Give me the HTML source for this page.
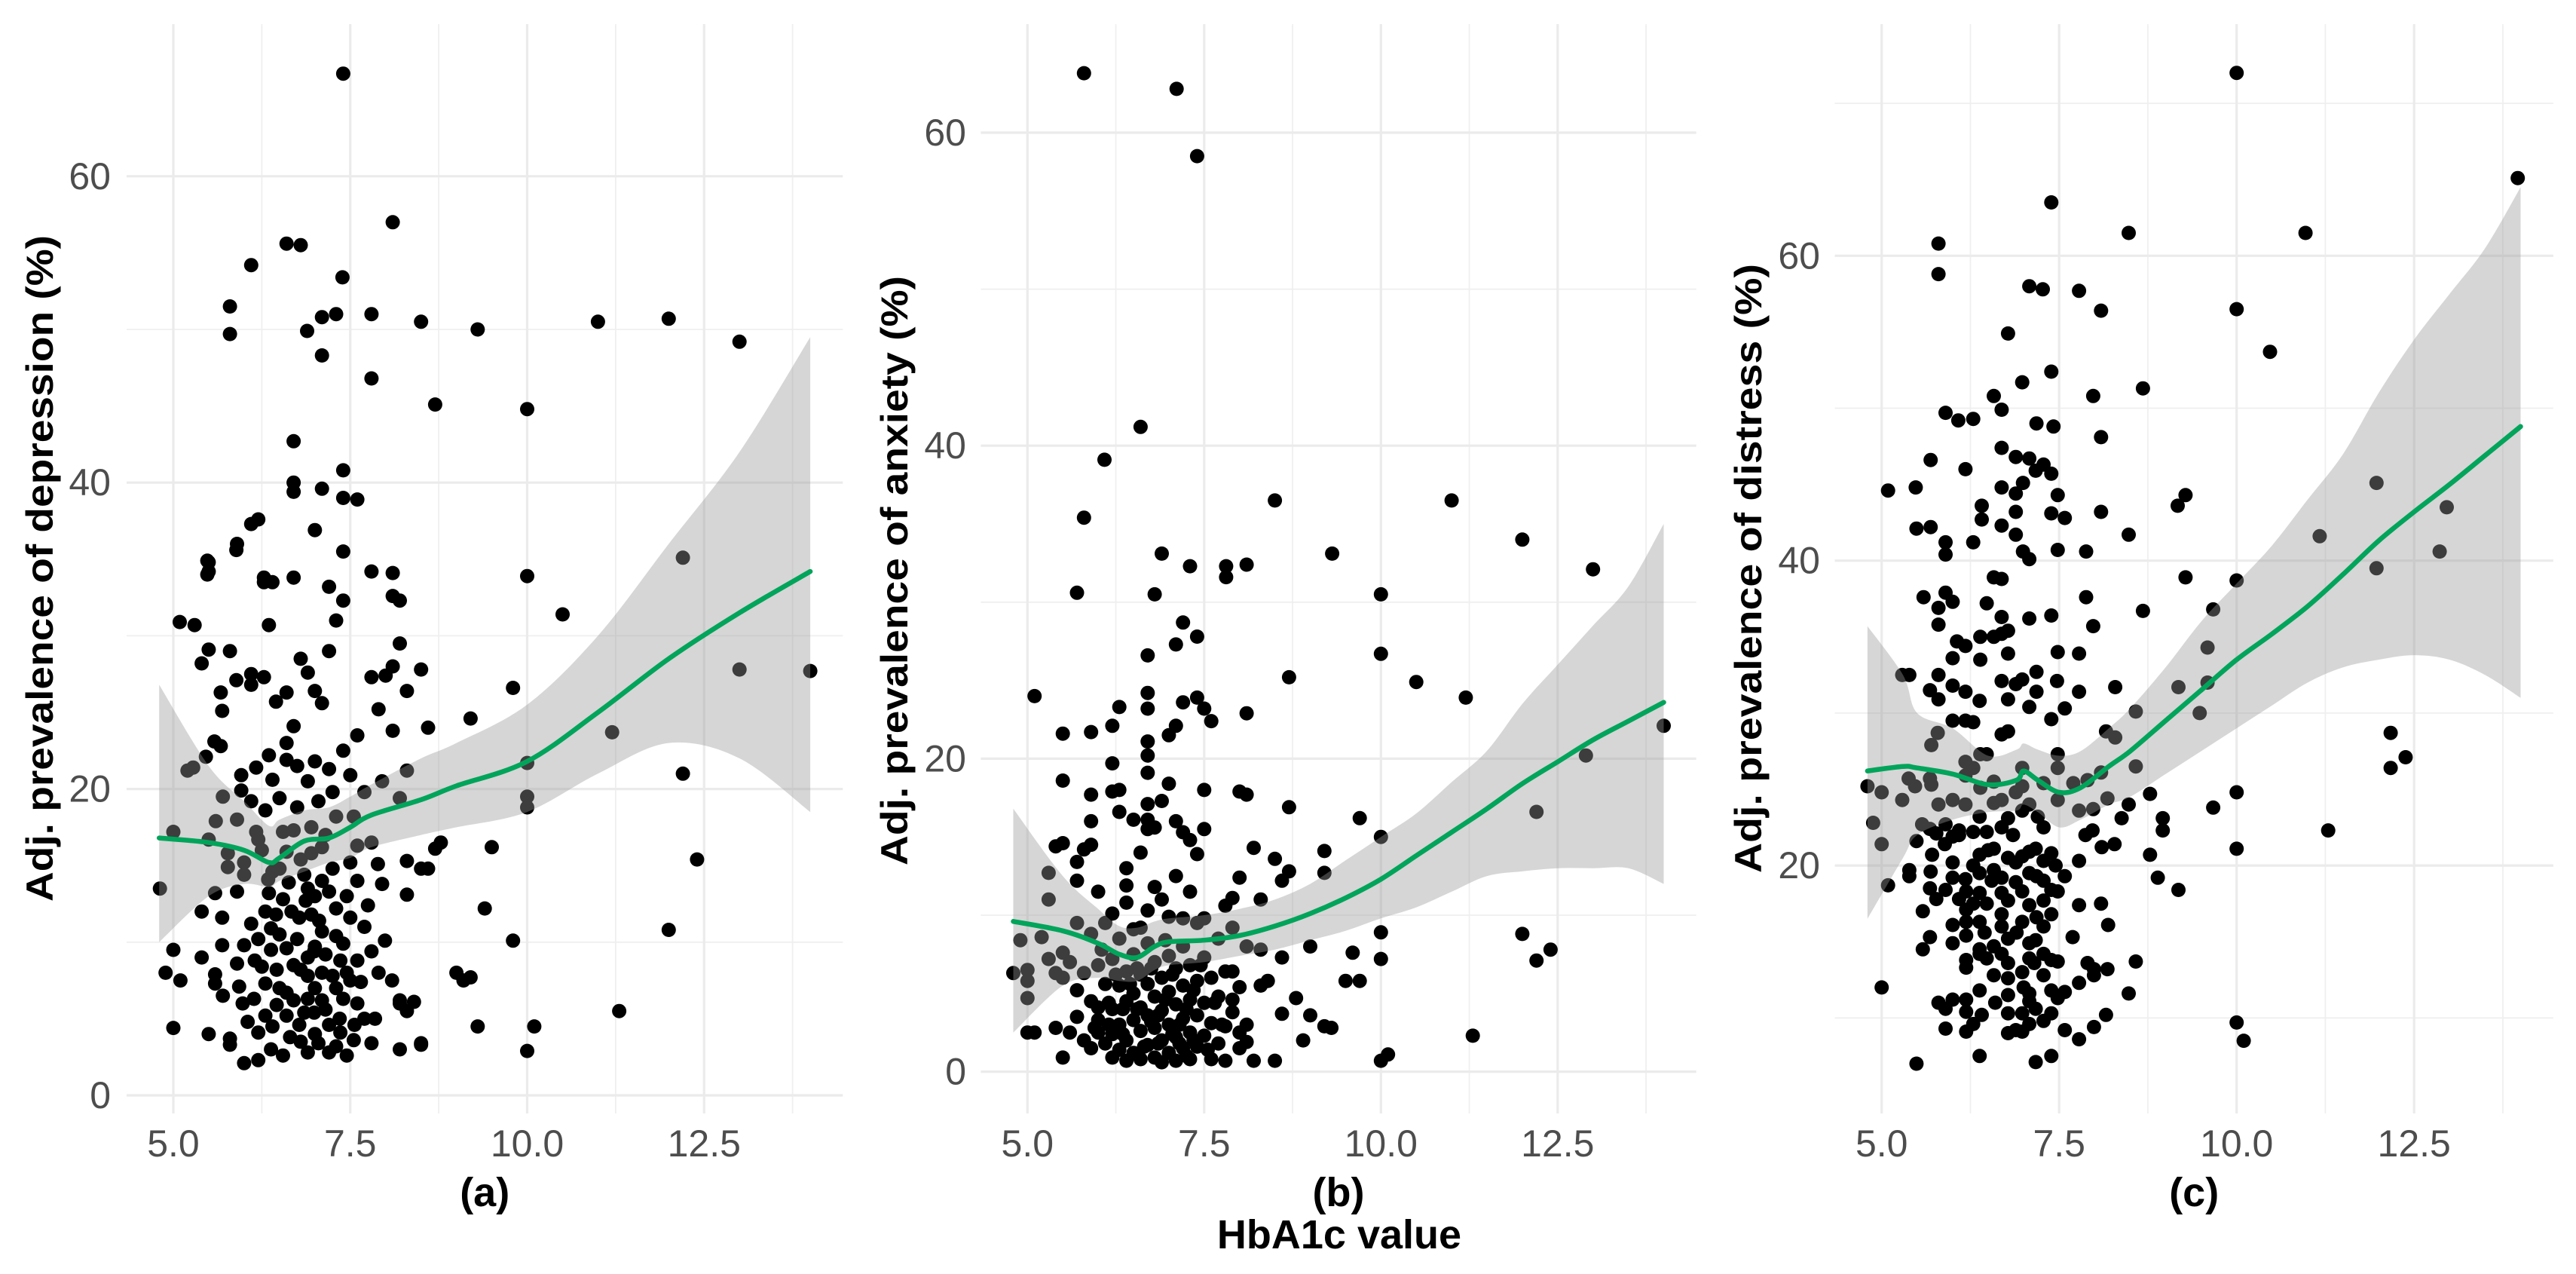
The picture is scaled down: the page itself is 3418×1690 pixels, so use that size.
<!DOCTYPE html>
<html><head><meta charset="utf-8"><title>HbA1c vs adjusted prevalence</title>
<style>
html,body{margin:0;padding:0;background:#fff;}
svg{display:block;}
text{font-family:"Liberation Sans",Arial,sans-serif;}
</style></head>
<body>
<svg id="chart" xmlns="http://www.w3.org/2000/svg" width="3418" height="1690" viewBox="0 0 3418 1690">
<rect width="3418" height="1690" fill="#fff"/>
<text x="1777" y="1638" text-anchor="middle" dominant-baseline="central" font-size="54" font-weight="bold" fill="#000">HbA1c value</text>
</svg>
<script>
// ---------- DATA ----------
const xMajorTicks = [5.0, 7.5, 10.0, 12.5];
const xTickLabels = ["5.0", "7.5", "10.0", "12.5"];
const xMinorTicks = [6.25, 8.75, 11.25, 13.75];

const yTicksA = [0, 20, 40, 60];
const yMinorA = [10, 30, 50];
const yTicksB = [0, 20, 40, 60];
const yMinorB = [10, 30, 50];
const yTicksC = [20, 40, 60];
const yMinorC = [10, 30, 50, 70];

const titles = ["Adj. prevalence of depression (%)", "Adj. prevalence of anxiety (%)", "Adj. prevalence of distress (%)"];
const captions = ["(a)", "(b)", "(c)"];

// smoother: [x, fit, lower, upper]
const smoothA = [[4.8,16.8,10,26.8],[5.5,16.5,13,21.5],[6.0,16.0,13.8,19.2],[6.35,15.2,13.6,17.6],[6.5,15.5,14,18],[6.85,16.6,14.6,18.6],[7.2,16.8,15.2,18.8],[7.5,17.5,15.5,19.5],[7.8,18.3,16.2,20.3],[8.5,19.3,17,22],[9.0,20.2,17.5,23],[10,21.8,18.5,25.5],[11,25,21,30],[12,28.5,23,36],[13,31.5,22,42],[14,34.2,18.5,49.5]];
const smoothB = [[4.8,9.6,2.5,16.8],[5.5,9.0,5.5,12.5],[6.0,8.2,6.0,10.4],[6.3,7.5,5.8,9.3],[6.55,7.3,5.8,9.2],[6.8,8.0,6.5,9.6],[7.0,8.3,6.8,9.8],[7.5,8.4,7.0,10.0],[8.0,8.7,7.4,10.4],[8.5,9.3,7.8,11.0],[9.0,10.1,8.4,12.0],[9.5,11.1,9,13.5],[10,12.3,9.8,15],[10.5,13.8,10.5,16.5],[11,15.3,11.5,18.5],[11.5,16.8,12.5,20.5],[12,18.4,12.8,23.5],[12.5,19.8,13,26],[13,21.2,13,28.5],[13.5,22.4,13,31],[14,23.6,12,35]];
const smoothC = [[4.8,26.2,16.5,35.7],[5.3,26.5,20.5,32.5],[5.5,26.4,22,30],[6.0,26,23,29],[6.5,25.3,23.5,27.2],[6.9,25.6,23.6,27.6],[7.0,26.2,24,28],[7.2,25.6,23.5,27.6],[7.5,24.8,22.5,27.2],[7.8,25.1,23,27.5],[8.2,26.5,24,29],[8.5,27.5,24.5,30.3],[9.0,29.5,26,33],[9.5,31.5,27.5,36],[10,33.5,29,38.5],[10.5,35.2,30.5,41],[11,37,32,44],[11.5,39.1,33,47],[12,41.3,33.5,51],[12.5,43.2,33.8,54.5],[13,45,33.5,57.5],[13.5,46.9,32.5,60.5],[14,48.8,31,64.5]];

const depressionPoints = [
[8.1,57.0],[7.4,66.7],[6.6,55.6],[6.8,55.5],[6.1,54.2],[7.39,53.4],[5.8,51.5],[5.8,49.7],[6.89,49.9],[7.1,50.8],[7.3,51],[7.8,51],[8.5,50.5],[7.1,48.3],[7.8,46.8],[8.7,45.1],[6.7,42.7],[7.4,40.8],[6.7,40.0],[6.7,39.4],[7.1,39.6],[7.4,39],[7.6,38.9],[6.2,37.6],[7.0,36.9],[5.9,36],[7.4,35.5],[5.5,34.8],[5.5,34.2],[6.28,33.5],[6.4,33.5],[6.7,33.8],[7.8,34.2],[8.1,34.1],[7.2,33.2],[7.4,32.3],[8.1,32.6],[8.2,32.3],
[9.3,50],[11.0,50.5],[12.0,50.7],[13.0,49.2],[10.0,44.8],[10.0,33.9],[10.5,31.4],[12.2,35.1],[13.0,27.8],[14.0,27.7],[11.2,23.7],[10.0,21.7],[10.0,19.5],[10.0,18.8],[9.5,16.2],[9.8,26.6],[9.2,24.6],[12.2,21.0],[12.4,15.4],[12.0,10.8],[11.3,5.5],[10.0,2.9],[10.1,4.5],[9.8,10.1],[9.4,12.2],[9.3,4.5],[9.1,7.5],[9.0,8.0],[9.2,7.7],[8.7,16.1],[8.6,24.0],[8.5,27.8],[8.3,26.4],[8.2,19.4],[8.5,3.3],[8.3,5.5],[8.2,6.2],
[4.81,13.5],[5.0,9.5],[4.89,8.0],[5.1,7.5],[5.0,4.4],[5.4,12.0],[5.59,13.2],[5.69,11.6],[5.4,9.0],[5.5,4.0],[5.69,9.8],[5.59,7.9],[5.59,7.3],[5.7,6.5],[5.9,8.6],[6.0,9.8],[5.9,13.3],[6.1,11.2],[5.8,3.7],[5.8,3.3],[6.0,2.1],[6.2,4.1],[6.2,2.3],[6.3,12],[6.38,10.9],[6.38,9.5],[6.46,8.2],[6.6,6.7],[6.6,5.2],[6.78,4.6],[6.9,6.3],[7.0,9.7],[7.2,13.3],[7.3,12.2],[7.4,9.9],[7.6,8.8],[7.5,7.5],[7.4,6.3],[7.56,4.6],[7.85,5.0],[7.8,9.4],[7.99,10.1],[8.09,7.5],[8.2,6.0],[8.3,13.1],[8.4,6.1],[8.5,3.4],[8.2,3.0],[7.8,3.4],[7.2,2.8],[6.9,2.8],[6.38,3.0],[6.67,12],[6.87,12.7],[6.78,11.6],[7.06,11.4],[7.1,10.7],[6.99,9.4],[7.36,8.8],[6.46,5.9],[6.99,5.4],[7.15,5.6],[7.36,4.1],[6.3,7.3],[6.14,6.3],[5.93,7.1],[5.98,6.0],[7.5,15.2],[7.89,15.1],[8.3,15.3],[8.5,14.8],[8.6,14.8],[8.78,16.5],[7.6,16.3],[7.8,16.5],[7.1,16.2],[6.95,15.8],[6.8,15.4],[6.5,14.8],[6.34,14.1],[6.0,15.2],[6.0,14.4],[5.77,15.8],[5.77,14.9],[5.5,16.7],[5.0,17.2],[6.2,16.7],[6.17,17.2],[6.7,17.3],[6.63,13.9],
[5.09,30.9],[5.3,30.7],[5.48,34.9],[5.48,34.0],[5.5,29.1],[5.4,28.2],[5.28,21.4],[5.46,22.1],[5.58,23.1],[5.67,22.8],[5.69,25.1],[5.67,26.3],[5.8,29.0],[5.89,35.6],[5.89,27.1],[6.1,37.3],[6.1,27.5],[6.1,26.8],[6.28,33.8],[6.28,27.3],[6.35,30.7],[6.45,25.7],[6.6,26.3],[6.6,21.9],[6.35,22.2],[6.17,21.4],[5.96,20.9],[5.96,19.9],[6.1,19.2],
[6.8,28.5],[6.9,27.6],[7.0,26.4],[7.1,25.6],[7.2,29],[7.3,31],[6.7,24.1],[6.6,23],[6.75,21.5],[6.9,20.5],[7.05,19.2],[7.2,21.3],[7.4,22.5],[7.5,20.9],[7.6,23.5],[7.8,27.3],[7.9,25.2],[8.0,27.4],[7.7,19.8],[6.5,19.4],[6.4,20.6],[6.3,18.6],[7.3,18.2],[7.95,20.5],[8.1,23.8],[8.3,21.2],[8.1,28.0],[8.2,29.5],[7.15,17.0],[6.95,17.5],[5.9,18],[5.7,19.5],[5.6,17.9],[5.2,21.2],
[6.5,10.5],[6.7,8.5],[6.9,7.8],[7.1,8.0],[7.3,7.0],[6.8,3.5],[7.0,4.0],[7.3,3.2],[7.6,6.0],[7.7,11.0],[6.4,4.5],[6.55,2.6],[7.45,2.6],[7.1,14.0],[6.9,13.5],
[6.2,10.2],[6.25,8.4],[6.3,5.2],[6.35,13.2],[6.45,11.8],[6.5,7.0],[6.55,12.8],[6.6,9.6],[6.65,3.8],[6.7,6.2],[6.75,10.2],[6.8,8.2],[6.85,5.4],[6.9,9.0],[6.95,11.8],[7.0,7.0],[7.05,3.4],[7.1,6.2],[7.15,9.2],[7.2,4.6],[7.25,7.8],[7.3,10.4],[7.35,5.0],[7.45,8.0],[7.5,11.6],[7.55,3.6],[7.65,7.4],[7.7,5.0],[7.75,12.4],[7.9,8.0],[6.15,8.8],[6.05,4.8],[6.4,14.6],[6.6,15.9],[6.85,14.4],[7.0,13.0],[7.25,14.8],[7.45,13.0],[7.6,14.0],[7.95,13.8],[6.25,16.0],[6.75,18.8],[7.0,21.8],[7.25,19.8],[7.55,18.2],[6.55,17.2]
];

const anxietyPoints = [
[5.8,63.8],[7.11,62.8],[7.4,58.5],[6.6,41.2],[6.09,39.1],[5.8,35.4],[5.7,30.6],[6.9,33.1],[7.3,32.3],[7.81,32.3],[7.81,31.6],[8.1,32.4],[8.5,36.5],[9.31,33.1],[10.0,30.5],[10.0,26.7],[10.5,24.9],[11.0,36.5],[12.0,34.0],[13.0,32.1],[14.0,22.1],[12.9,20.2],[12.2,16.6],[12.0,8.8],[12.2,7.1],[12.4,7.8],[11.3,2.3],[10.0,0.7],[10.1,1.1],[10.0,8.9],[10.0,7.2],[10.0,15.0],[11.2,23.9],[9.7,16.2],[9.6,7.6],[9.5,5.8],[9.7,5.8],[9.2,14.1],[9.2,12.7],[9.0,8.0],[9.2,2.9],[9.3,2.8],[8.9,2.0],[9.0,3.6],[8.8,4.7],[8.6,3.7],[8.6,7.3],[8.7,25.2],[8.7,16.9],[8.7,12.8],[8.5,13.6],[8.6,12.2],[8.5,0.7],[8.2,14.3],[8.3,11.0],[8.4,5.8],[8.3,5.5],[8.3,7.8],[8.1,17.7],[8.0,17.9],[8.1,22.9],[8.0,12.4],[7.9,11.1],[7.8,10.6],[7.9,6.4],[7.9,4.6],[8.0,2.5],[8.2,0.7],[8.1,1.9],[7.8,0.7],[7.6,0.8],[7.5,18.0],[7.5,15.5],[7.6,22.4],[7.5,23.2],[7.4,23.9],[7.4,27.8],[7.2,28.7],[7.2,23.6],[7.1,22.1],[7.1,27.3],[7.0,21.5],[7.0,18.4],[7.1,16.0],[7.2,15.3],[7.3,14.8],[7.4,13.9],[6.9,17.3],[6.7,16.1],[6.7,15.5],[6.8,15.6],[6.7,17.1],[6.7,19.1],[6.7,20.2],[6.7,21.1],[6.7,23.2],[6.7,24.2],[6.7,26.6],[6.8,30.5],[6.5,16.1],[6.6,14.0],[6.4,13.0],[6.4,11.9],[6.4,10.8],[6.2,10.1],[6.3,16.6],[6.3,23.3],[6.2,22.1],[6.2,19.7],[6.2,17.9],[6.3,18.0],[5.9,17.7],[5.9,16.0],[5.9,21.7],[5.9,14.5],[5.8,14.2],[5.7,13.4],[5.7,12.2],[5.5,21.6],[5.5,18.6],[5.5,14.6],[5.4,14.4],[5.3,12.7],[5.3,11.0],[4.9,8.4],[4.8,6.3],[5.0,6.5],[5.0,4.7],[5.0,2.5],[5.1,2.5],[5.1,24.0],[5.4,6.3],[5.4,2.8],[5.5,0.9],[5.6,2.5],[6.0,11.5],[6.0,2.5],[6.0,4.1],
[5.6,7.0],[5.7,5.2],[5.7,3.5],[5.8,6.3],[5.8,2.0],[5.9,4.5],[5.9,1.5],[6.0,6.8],[6.0,3.3],[6.1,5.6],[6.1,1.8],[6.2,7.2],[6.2,4.0],[6.2,2.4],[6.2,0.9],[6.3,5.5],[6.3,3.0],[6.3,1.4],[6.4,6.4],[6.4,4.5],[6.4,2.0],[6.4,0.7],[6.5,7.5],[6.5,5.0],[6.5,3.3],[6.5,1.2],[6.6,6.2],[6.6,4.1],[6.6,2.6],[6.6,0.8],[6.7,8.2],[6.7,5.6],[6.7,3.6],[6.7,1.7],[6.8,7.0],[6.8,4.8],[6.8,2.8],[6.8,0.9],[6.9,6.0],[6.9,3.9],[6.9,2.0],[6.9,0.6],[7.0,9.9],[7.0,7.4],[7.0,5.1],[7.0,3.0],[7.0,1.2],[7.1,6.6],[7.1,4.3],[7.1,2.2],[7.1,0.7],[7.2,8.0],[7.2,5.5],[7.2,3.4],[7.2,1.5],[7.3,6.8],[7.3,4.6],[7.3,2.5],[7.3,0.8],[7.4,9.5],[7.4,5.8],[7.4,3.6],[7.4,1.6],[7.5,7.3],[7.5,4.4],[7.5,2.3],[7.6,6.0],[7.6,3.1],[7.7,8.5],[7.7,4.8],[7.7,1.8],[7.8,6.4],[7.8,2.9],[7.9,9.2],[7.9,3.8],[8.0,5.4],[8.0,1.5],[8.1,8.0],[8.1,3.0],[7.5,9.8],[7.3,11.5],[7.1,12.5],[6.9,11.0],[6.7,10.3],[6.5,9.1],[6.3,8.5],[6.1,9.5],[5.9,8.8],[5.7,9.5],[5.5,7.6],[5.5,6.0],[5.3,7.2],[5.2,8.6],[5.0,5.8],
[6.55,6.6],[6.75,3.2],[6.95,4.6],[7.15,3.0],[7.35,5.2],[6.35,4.0],[6.15,3.0],[6.85,1.8],[7.05,2.4],[7.25,1.0],
[6.25,6.2],[6.35,2.4],[6.45,5.6],[6.55,4.0],[6.65,1.6],[6.75,6.6],[6.85,3.6],[6.95,8.4],[7.05,6.2],[7.15,1.8],[7.25,4.0],[7.35,2.0],[7.45,6.8],[7.55,1.4],[7.65,4.4],[7.75,3.0],[6.05,7.8],[5.95,2.8],[6.15,4.4],[7.2,9.8],[6.6,9.2],[6.8,11.8]
];

const distressPoints = [
[10.0,72.0],[13.96,65.1],[7.39,63.5],[8.48,61.5],[10.97,61.5],[5.8,60.8],[5.8,58.8],[7.08,58.0],[7.27,57.8],[7.78,57.7],[8.09,56.4],[10.0,56.5],[6.78,54.9],[10.47,53.7],[7.39,52.4],[8.68,51.3],[6.98,51.7],[7.98,50.8],[6.58,50.8],[6.69,49.9],[5.9,49.7],[6.08,49.2],[6.29,49.3],[7.18,49.0],[7.42,48.8],[8.09,48.1],[6.69,47.4],[6.89,46.8],[7.08,46.7],[5.69,46.6],[7.28,46.3],[6.18,46.0],[7.17,45.9],[7.39,45.7],[6.99,45.1],[5.48,44.8],[5.09,44.6],[6.69,44.8],[6.89,44.4],[7.48,44.3],[11.97,45.1],[9.28,44.3],[9.17,43.6],[12.96,43.5],[6.41,43.6],[6.89,43.2],[7.39,43.1],[7.58,42.8],[8.09,43.2],[5.49,42.1],[5.69,42.2],[6.41,42.7],[6.29,41.2],[6.69,42.3],[6.89,41.7],[11.17,41.6],[8.48,41.7],[5.9,41.2],[5.9,40.4],[6.99,40.6],[7.08,40.1],[7.48,40.7],[7.88,40.6],[12.86,40.6],[11.97,39.5],[9.28,38.9],[10.0,38.7],[6.58,38.9],[6.69,38.8],[5.59,37.6],[5.9,37.9],[6.0,37.3],[5.8,36.9],[6.48,37.2],[7.88,37.6],[8.68,36.7],[9.67,36.8],[7.39,36.4],[7.08,36.2],[6.69,36.3],[5.8,35.8],[7.98,35.7],[6.78,35.4],[6.69,35.2],[6.39,35.0],[6.58,35.0],[6.06,34.7],[6.18,34.4],[7.48,34.0],[7.78,33.9],[6.78,33.9],[6.0,33.6],[9.59,34.3],[6.39,33.5],[5.29,32.5],[5.39,32.5],[5.8,32.5],[7.18,32.7],[6.98,32.2],[6.69,32.1],[6.89,31.9],[7.47,32.1],[9.59,32.0],[9.18,31.7],[8.29,31.7],[6.0,31.8],[5.68,31.5],[5.8,30.9],[6.18,31.4],[6.38,30.8],[6.78,30.9],[7.18,31.4],[7.78,31.4],[6.0,29.5],[7.08,30.4],[7.39,29.6],[7.58,30.3],[8.58,30.1],[9.48,30.0],[6.18,29.5],[6.29,29.4],[5.79,28.7],[6.69,28.6],[6.78,28.8],[8.16,28.8],[8.29,28.4],[12.17,28.7],[5.7,27.9],[6.39,27.3],[6.48,27.3],[7.48,27.3],[6.18,26.8],[6.29,26.4],[8.58,26.5],[12.17,26.4],[12.38,27.1],[5.68,25.7],[5.38,25.7],[6.18,25.9],[6.98,26.4],[7.48,26.4],[8.09,26.1],[4.8,25.2],[5.0,24.8],[5.47,25.2],[5.7,25.3],[6.39,25.1],[6.58,25.5],[6.98,25.2],[7.28,25.4],[7.7,25.4],[7.9,25.6],[10.0,24.8],[5.29,24.3],[5.8,24.0],[6.0,24.3],[6.18,24.0],[6.58,24.1],[6.69,24.3],[6.89,24.8],[7.08,24.0],[7.48,24.3],[7.98,23.7],[8.18,24.4],[8.48,24.0],[8.78,24.7],[9.67,23.8],[6.98,23.6],[7.78,23.6],[4.88,22.8],[6.38,23.2],[6.78,23.1],[8.38,23.1],[8.96,23.1],[5.57,22.7],[5.68,22.4],[5.9,22.7],[6.09,22.3],[6.29,22.2],[6.69,22.5],[7.28,22.5],[7.97,22.3],[8.96,22.3],[11.29,22.3],[5.77,22.1],[7.87,22.0],[5.49,21.6],[6.0,21.9],[6.09,22.0],[6.48,22.2],[5.0,21.4],[5.89,21.4],[8.1,21.2],[8.28,21.4],[10.0,21.1],[5.71,20.7],[6.38,20.7],[6.58,21.1],[7.08,20.9],[7.17,21.1],[7.39,20.8],[8.78,20.7],[6.0,20.2],[6.78,20.5],[6.89,20.2],[6.98,20.6],[7.28,20.3],[7.78,20.3],[5.39,19.7],[5.69,19.6],[6.29,20.0],[6.38,19.5],[6.58,19.7],[6.69,19.2],[7.08,19.5],[7.18,19.3],[7.58,19.3],[5.39,19.3],[6.0,19.2],[6.18,19.1],[6.89,18.9],[7.28,19.0],[5.09,18.7],[5.68,18.5],[5.9,18.4],[6.19,18.3],[6.38,18.2],[6.69,18.2],[6.98,18.3],[7.39,18.4],[7.48,18.3],[9.18,18.4],[8.89,19.2],[5.77,17.8],[6.09,17.8],[6.29,17.5],[6.48,17.5],[6.78,17.7],[7.08,17.4],[7.28,17.7],[7.78,17.4],[8.09,17.5],[6.19,17.1],[6.69,16.8],[7.18,16.6],[7.39,16.8],[5.58,17.0],[6.0,16.1],[6.19,16.3],[6.38,16.3],[6.69,16.0],[6.98,16.3],[7.28,16.0],[8.19,16.1],[6.19,15.4],[6.78,15.2],[5.68,15.3],[7.69,15.3],[5.58,14.5],[6.38,14.5],[6.58,14.7],[7.08,14.9],[7.17,15.1],[6.0,14.9],[7.28,14.2],[6.38,14.2],[6.69,14.2],[6.19,13.8],[6.48,13.9],[7.08,13.9],[7.39,13.8],[6.78,13.6],[7.48,13.7],[7.9,13.6],[7.99,13.2],[8.18,13.2],[8.58,13.7],[6.19,13.3],[6.58,12.8],[6.78,12.6],[6.98,13.0],[7.28,12.8],[7.99,12.8],[5.0,12.0],[7.78,12.3],[6.38,11.8],[6.78,11.5],[7.08,11.6],[7.39,11.8],[7.58,11.7],[8.48,11.6],[7.48,11.3],[5.8,11.0],[6.0,11.2],[6.19,11.2],[7.08,11.1],[5.9,10.6],[6.19,10.4],[6.98,10.3],[8.16,10.2],[7.28,9.8],[6.41,10.2],[6.78,10.3],[7.17,10.6],[7.39,10.3],[6.29,9.6],[7.08,9.6],[5.9,9.3],[6.19,9.1],[6.78,9.0],[6.89,9.2],[7.58,9.2],[7.78,8.6],[7.99,9.4],[10.0,9.7],[10.1,8.5],[6.38,7.5],[5.49,7.0],[7.17,7.1],[7.39,7.5],[6.98,9.1],
[6.5,21.0],[6.85,22.0],[7.2,23.2],[6.55,19.0],[6.9,15.6],[7.15,13.6],[6.45,15.6],[7.45,20.0],[6.6,11.0],[7.0,12.0]
];

// ---------- LAYOUT ----------
const NS = "http://www.w3.org/2000/svg";
const svg = document.getElementById("chart");
const FRAME_TOP = 32, FRAME_BOTTOM = 1477;
const panels = [
  {key:"a", x5:230.0, xs:93.9, y0:1453.0, ys:20.32, pts:depressionPoints, smooth:smoothA, yt:yTicksA, ym:yMinorA, title:titles[0], cap:captions[0], titleX:53, titleY:754, titleLen:884, tickEnd:147},
  {key:"b", x5:1363.3, xs:93.8, y0:1421.6, ys:20.76, pts:anxietyPoints, smooth:smoothB, yt:yTicksB, ym:yMinorB, title:titles[1], cap:captions[1], titleX:1187, titleY:757, titleLen:782, tickEnd:1282},
  {key:"c", x5:2496.7, xs:94.2, y0:1552.5, ys:20.22, pts:distressPoints, smooth:smoothC, yt:yTicksC, ym:yMinorC, title:titles[2], cap:captions[2], titleX:2320, titleY:754, titleLen:808, tickEnd:2415}
];

function mk(tag, attrs, parent){
  const e = document.createElementNS(NS, tag);
  for (const k in attrs) e.setAttribute(k, attrs[k]);
  (parent||svg).appendChild(e);
  return e;
}

panels.forEach(p => {
  const X = v => p.x5 + (v - 5) * p.xs;
  const Y = v => p.y0 - v * p.ys;
  const left = X(4.34), right = X(14.46);

  const g = mk("g", {});
  
  

  p.ym.forEach(v => {
    const y = Y(v);
    if (y < FRAME_TOP - 2 || y > FRAME_BOTTOM) return;
    const l = mk("line", {x1:left, x2:right, y1:y, y2:y, stroke:"#efefef", "stroke-width":1.8}, g);
    
    
  });
  xMinorTicks.forEach(v => {
    const l = mk("line", {x1:X(v), x2:X(v), y1:FRAME_TOP, y2:FRAME_BOTTOM, stroke:"#efefef", "stroke-width":1.8}, g);
    
    
  });
  p.yt.forEach(v => {
    const y = Y(v);
    const l = mk("line", {x1:left, x2:right, y1:y, y2:y, stroke:"#ebebeb", "stroke-width":3.2}, g);
    
    
    const t = mk("text", {x:p.tickEnd, y:y, "text-anchor":"end", "dominant-baseline":"central", "font-size":50, fill:"#4d4d4d"}, g);
    t.textContent = String(v);
    
    
  });
  xMajorTicks.forEach((v, i) => {
    const l = mk("line", {x1:X(v), x2:X(v), y1:FRAME_TOP, y2:FRAME_BOTTOM, stroke:"#ebebeb", "stroke-width":3.2}, g);
    
    
    const t = mk("text", {x:X(v), y:1517, "text-anchor":"middle", "dominant-baseline":"central", "font-size":50, fill:"#4d4d4d"}, g);
    t.textContent = xTickLabels[i];
    
    
  });

  const pg = mk("g", {fill:"#000"}, g);
  
  
  p.pts.forEach(d => {
    const c = mk("circle", {cx:X(d[0]).toFixed(1), cy:Y(d[1]).toFixed(1), r:9.5}, pg);
    
    
  });

  function curve(arr){
    let s = "";
    for (let i = 0; i < arr.length - 1; i++) {
      const p0 = arr[Math.max(0, i - 1)], p1 = arr[i], p2 = arr[i + 1], p3 = arr[Math.min(arr.length - 1, i + 2)];
      const c1x = p1[0] + (p2[0] - p0[0]) / 6, c1y = p1[1] + (p2[1] - p0[1]) / 6;
      const c2x = p2[0] - (p3[0] - p1[0]) / 6, c2y = p2[1] - (p3[1] - p1[1]) / 6;
      s += " C" + c1x.toFixed(1) + "," + c1y.toFixed(1) + " " + c2x.toFixed(1) + "," + c2y.toFixed(1) + " " + p2[0].toFixed(1) + "," + p2[1].toFixed(1);
    }
    return s;
  }
  const upper = p.smooth.map(s => [X(s[0]), Y(s[3])]);
  const lower = p.smooth.map(s => [X(s[0]), Y(s[2])]).reverse();
  let dpath = "M" + upper[0][0].toFixed(1) + "," + upper[0][1].toFixed(1) + curve(upper) + " L" + lower[0][0].toFixed(1) + "," + lower[0][1].toFixed(1) + curve(lower) + " Z";
  const band = mk("path", {d:dpath, fill:"#999999", "fill-opacity":0.4, stroke:"none"}, g);
  
  

  const pts = p.smooth.map(s => [X(s[0]), Y(s[1])]);
  const lp = "M" + pts[0][0].toFixed(1) + "," + pts[0][1].toFixed(1) + curve(pts);
  const line = mk("path", {d:lp, fill:"none", stroke:"#00a45a", "stroke-width":6.5, "stroke-linecap":"round", "stroke-linejoin":"round"}, g);
  
  

  const tt = mk("text", {x:p.titleX, y:p.titleY, "text-anchor":"middle", "dominant-baseline":"central", "font-size":50, "font-weight":"bold", fill:"#000", transform:"rotate(-90 " + p.titleX + " " + p.titleY + ")", textLength:p.titleLen, lengthAdjust:"spacingAndGlyphs"}, g);
  tt.textContent = p.title;
  
  

  const cap = mk("text", {x:((left + right) / 2).toFixed(1), y:1582, "text-anchor":"middle", "dominant-baseline":"central", "font-size":54, "font-weight":"bold", fill:"#000"}, g);
  cap.textContent = p.cap;
  
  
});
</script>
</body></html>
